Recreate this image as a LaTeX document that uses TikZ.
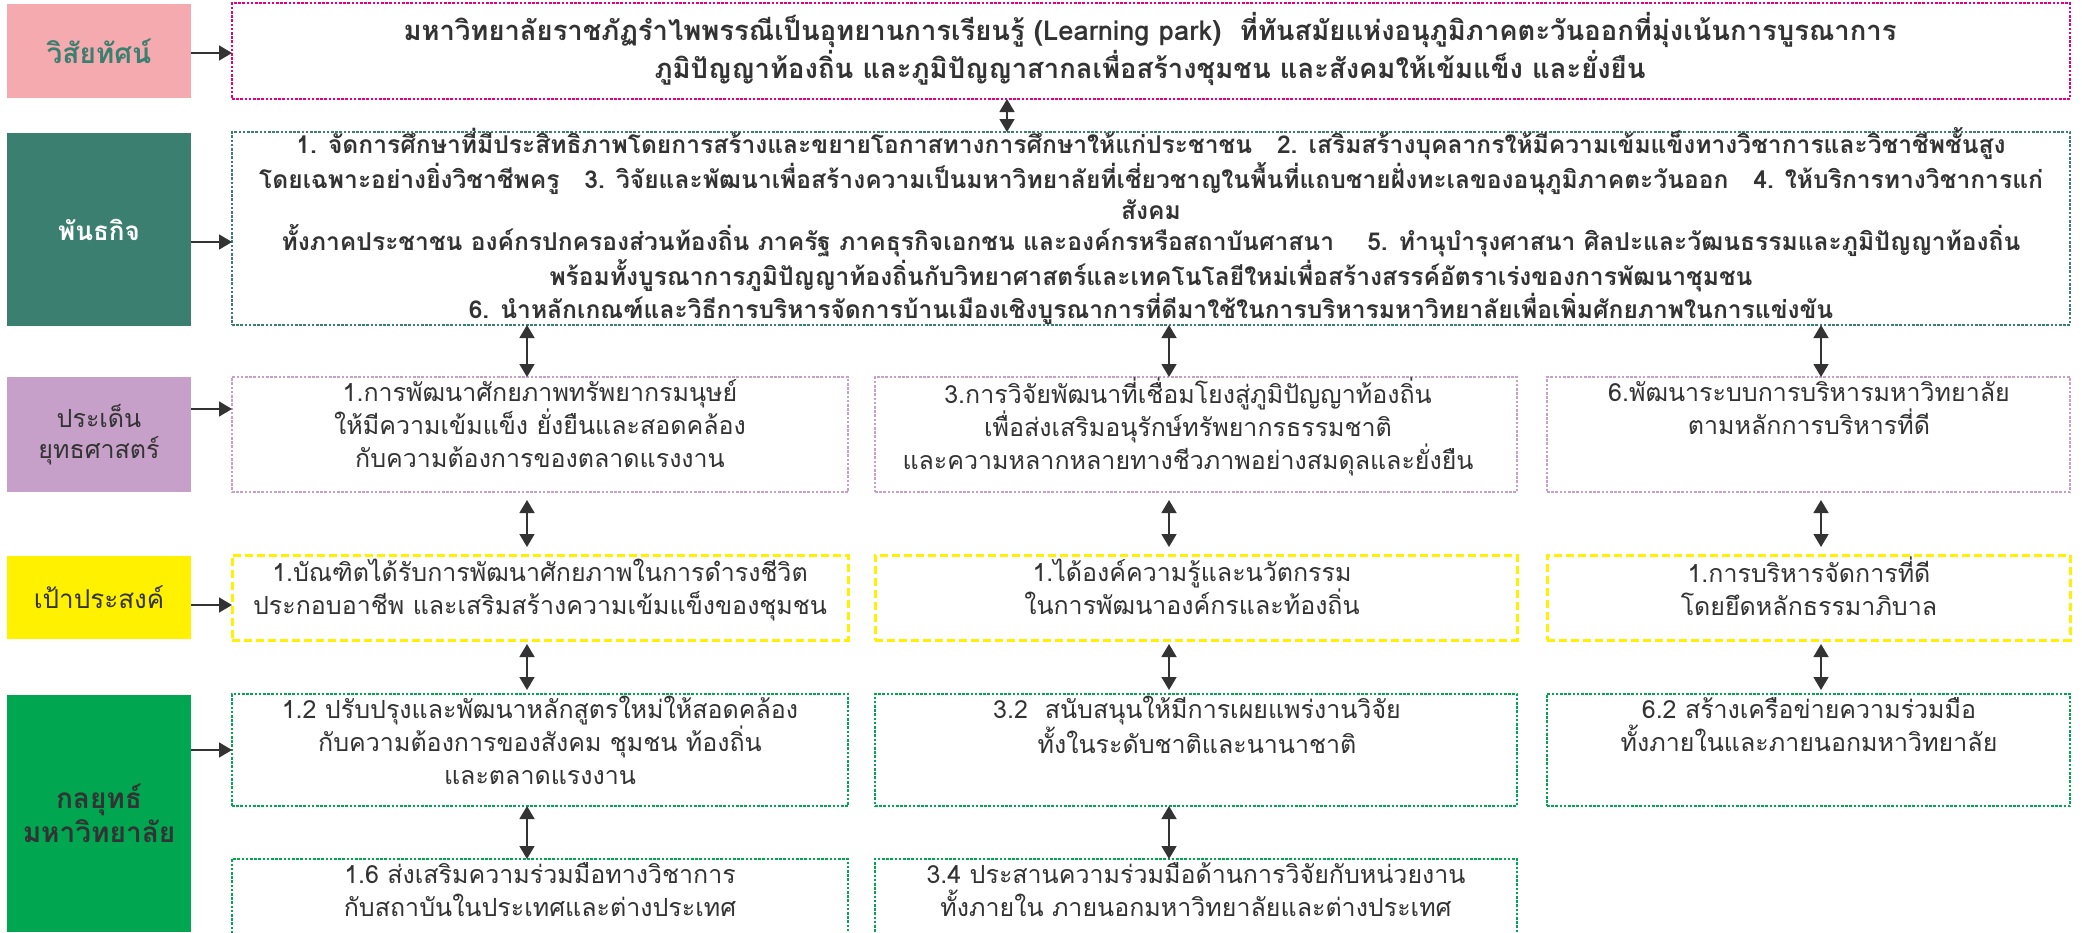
\documentclass[tikz,border=0pt]{standalone}
\usepackage{fontspec}
\newfontfamily\thaifont[Script=Thai]{Loma}
\usetikzlibrary{arrows.meta,positioning}

\definecolor{pinklab}{HTML}{F5AAAF}
\definecolor{tealbox}{HTML}{3A7F70}
\definecolor{purplab}{HTML}{C6A0C8}
\definecolor{yellab}{HTML}{FFF100}
\definecolor{greenlab}{HTML}{00A650}
\definecolor{magline}{HTML}{E6007E}
\definecolor{inkgray}{HTML}{333333}

\begin{document}
\begin{tikzpicture}[x=0.5pt,y=-0.5pt,font=\thaifont,
  lab/.style={fill=#1,minimum width=92pt,inner sep=0pt,outer sep=0pt,align=center},
  dotbox/.style={draw=#1,line width=1.4pt,dash pattern=on 1.3pt off 0.8pt,inner sep=0pt,outer sep=0pt},
  dashbox/.style={draw=#1,line width=1.5pt,dash pattern=on 4pt off 2pt,inner sep=0pt,outer sep=0pt},
  txt/.style={align=center,text=inkgray,inner sep=0pt,execute at begin node=\strut,execute at end node=\strut},
  boxfont/.style={font=\thaifont\fontsize{12.5pt}{16.5pt}\selectfont},
  arr/.style={draw=inkgray,line width=0.8pt,-{Triangle[length=6.5pt,width=7.5pt]}},
  dbl/.style={draw=inkgray,line width=0.8pt,{Triangle[length=6.5pt,width=7.5pt]}-{Triangle[length=6.5pt,width=7.5pt]}}]

\useasboundingbox (0,0) rectangle (2082,932);

% columns of the arrows
\coordinate (cv) at (1007,0);
\foreach \i/\x in {1/527, 2/1169, 3/1821}
{
\coordinate (c\i) at (\x,0);
}

% labels on the left
\node[lab=pinklab,minimum height=47pt,text=tealbox,font=\thaifont\bfseries\fontsize{14pt}{17pt}\selectfont] (lvis) at (99,51) {วิสัยทัศน์};
\node[lab=tealbox,minimum height=96.5pt,text=white,font=\thaifont\bfseries\fontsize{13pt}{17pt}\selectfont] (lmis) at (99,229.5) {พันธกิจ};
\node[lab=purplab,minimum height=57.5pt,text=inkgray,font=\thaifont\fontsize{12.5pt}{15.5pt}\selectfont] (liss) at (99,434.5) {ประเด็น\\ยุทธศาสตร์};
\node[lab=yellab,minimum height=41.5pt,text=inkgray,font=\thaifont\fontsize{13pt}{16pt}\selectfont] (lobj) at (99,597.5) {เป้าประสงค์};
\node[lab=greenlab,minimum height=118.5pt,text=inkgray,font=\thaifont\bfseries\fontsize{14pt}{17pt}\selectfont] (lstr) at (99,813.5) {กลยุทธ์\\มหาวิทยาลัย};

% vision and mission
\node[dotbox=magline,minimum width=919pt,minimum height=48pt] (vis) at (1151,51) {};
\node[txt,font=\thaifont\bfseries\fontsize{13.7pt}{17.5pt}\selectfont] (tvis) at (1150,50.5)
{มหาวิทยาลัยราชภัฏรำไพพรรณีเป็นอุทยานการเรียนรู้ (Learning park)\ \ ที่ทันสมัยแห่งอนุภูมิภาคตะวันออกที่มุ่งเน้นการบูรณาการ\\
ภูมิปัญญาท้องถิ่น และภูมิปัญญาสากลเพื่อสร้างชุมชน และสังคมให้เข้มแข็ง และยั่งยืน};

\node[dotbox=tealbox,minimum width=919pt,minimum height=96.5pt] (mis) at (1151,228.5) {};
\node[txt,font=\thaifont\bfseries\fontsize{12.3pt}{15.6pt}\selectfont] (tmis) at (1151,228)
{\lineskiplimit=-50pt\relax
1. จัดการศึกษาที่มีประสิทธิภาพโดยการสร้างและขยายโอกาสทางการศึกษาให้แก่ประชาชน\ \ \ 2. เสริมสร้างบุคลากรให้มีความเข้มแข็งทางวิชาการและวิชาชีพชั้นสูง\\
โดยเฉพาะอย่างยิ่งวิชาชีพครู\ \ \ 3. วิจัยและพัฒนาเพื่อสร้างความเป็นมหาวิทยาลัยที่เชี่ยวชาญในพื้นที่แถบชายฝั่งทะเลของอนุภูมิภาคตะวันออก\ \ \ 4. ให้บริการทางวิชาการแก่\\
สังคม\\
ทั้งภาคประชาชน องค์กรปกครองส่วนท้องถิ่น ภาครัฐ ภาคธุรกิจเอกชน และองค์กรหรือสถาบันศาสนา\ \ \ \ 5. ทำนุบำรุงศาสนา ศิลปะและวัฒนธรรมและภูมิปัญญาท้องถิ่น\\
พร้อมทั้งบูรณาการภูมิปัญญาท้องถิ่นกับวิทยาศาสตร์และเทคโนโลยีใหม่เพื่อสร้างสรรค์อัตราเร่งของการพัฒนาชุมชน\\
6. นำหลักเกณฑ์และวิธีการบริหารจัดการบ้านเมืองเชิงบูรณาการที่ดีมาใช้ในการบริหารมหาวิทยาลัยเพื่อเพิ่มศักยภาพในการแข่งขัน};

% strategic issues
\node[dotbox=purplab,minimum width=308pt,minimum height=57.5pt] (r3a) at (540,434.5) {};
\node[dotbox=purplab,minimum width=321pt,minimum height=57.5pt] (r3b) at (1196,434.5) {};
\node[dotbox=purplab,minimum width=261.5pt,minimum height=57.5pt] (r3c) at (1808.5,434.5) {};
\node[txt,boxfont] (t3a) at (540,428.3) {1.การพัฒนาศักยภาพทรัพยากรมนุษย์\\ให้มีความเข้มแข็ง ยั่งยืนและสอดคล้อง\\กับความต้องการของตลาดแรงงาน};
\node[txt,boxfont] (t3b) at (1188,428.3) {3.การวิจัยพัฒนาที่เชื่อมโยงสู่ภูมิปัญญาท้องถิ่น\\เพื่อส่งเสริมอนุรักษ์ทรัพยากรธรรมชาติ\\และความหลากหลายทางชีวภาพอย่างสมดุลและยั่งยืน};
\node[txt,boxfont] (t3c) at (1809,412.5) {6.พัฒนาระบบการบริหารมหาวิทยาลัย\\ตามหลักการบริหารที่ดี};

% objectives
\node[dashbox=yellab,minimum width=308pt,minimum height=42.5pt] (r4a) at (540,597.5) {};
\node[dashbox=yellab,minimum width=321pt,minimum height=42.5pt] (r4b) at (1196,597.5) {};
\node[dashbox=yellab,minimum width=261.5pt,minimum height=42.5pt] (r4c) at (1808.5,597.5) {};
\node[txt,boxfont] (t4a) at (540,591.5) {1.บัณฑิตได้รับการพัฒนาศักยภาพในการดำรงชีวิต\\ประกอบอาชีพ และเสริมสร้างความเข้มแข็งของชุมชน};
\node[txt,boxfont] (t4b) at (1192,591.5) {1.ได้องค์ความรู้และนวัตกรรม\\ในการพัฒนาองค์กรและท้องถิ่น};
\node[txt,boxfont] (t4c) at (1809,591.5) {1.การบริหารจัดการที่ดี\\โดยยึดหลักธรรมาภิบาล};

% strategies
\node[dotbox=greenlab,minimum width=308pt,minimum height=56pt] (r5a) at (540,750) {};
\node[dotbox=greenlab,minimum width=321pt,minimum height=56pt] (r5b) at (1196,750) {};
\node[dotbox=greenlab,minimum width=261.5pt,minimum height=56pt] (r5c) at (1808.5,750) {};
\node[txt,boxfont] (t5a) at (540,745.7) {1.2 ปรับปรุงและพัฒนาหลักสูตรใหม่ให้สอดคล้อง\\กับความต้องการของสังคม ชุมชน ท้องถิ่น\\และตลาดแรงงาน};
\node[txt,boxfont] (t5b) at (1197,729.5) {3.2\ \ สนับสนุนให้มีการเผยแพร่งานวิจัย\\ทั้งในระดับชาติและนานาชาติ};
\node[txt,boxfont] (t5c) at (1809,729.5) {6.2 สร้างเครือข่ายความร่วมมือ\\ทั้งภายในและภายนอกมหาวิทยาลัย};

\begin{scope}
\clip (0,0) rectangle (2082,932);
\node[dotbox=greenlab,minimum width=308pt,minimum height=70.5pt] (r6a) at (540,929.5) {};
\node[dotbox=greenlab,minimum width=321pt,minimum height=70.5pt] (r6b) at (1196,929.5) {};
\end{scope}
\node[txt,boxfont] (t6a) at (540,894) {1.6 ส่งเสริมความร่วมมือทางวิชาการ\\กับสถาบันในประเทศและต่างประเทศ};
\node[txt,boxfont] (t6b) at (1196,894) {3.4 ประสานความร่วมมือด้านการวิจัยกับหน่วยงาน\\ทั้งภายใน ภายนอกมหาวิทยาลัยและต่างประเทศ};

% arrows from the labels
\draw[arr] (lvis.east |- 0,53) -- (vis.west |- 0,53);
\draw[arr] (lmis.east |- 0,242) -- (mis.west |- 0,242);
\draw[arr] (liss.east |- 0,409) -- (r3a.west |- 0,409);
\draw[arr] (lobj.east |- 0,605) -- (r4a.west |- 0,605);
\draw[arr] (lstr.east |- 0,750) -- (r5a.west |- 0,750);

% arrows between the rows
\draw[dbl] (vis.south -| cv) -- (mis.north -| cv);
\foreach \c/\n in {a/1, b/2, c/3}
{
\draw[dbl] (mis.south -| c\n) -- (r3\c.north -| c\n);
}
\foreach \c/\n in {a/1, b/2, c/3}
{
\draw[dbl,shorten <=4pt,shorten >=4pt] (r3\c.south -| c\n) -- (r4\c.north -| c\n);
\draw[dbl,shorten <=2pt,shorten >=2pt] (r4\c.south -| c\n) -- (r5\c.north -| c\n);
}
\draw[dbl] (r5a.south -| c1) -- (r6a.north -| c1);
\draw[dbl] (r5b.south -| c2) -- (r6b.north -| c2);

\end{tikzpicture}
\end{document}
